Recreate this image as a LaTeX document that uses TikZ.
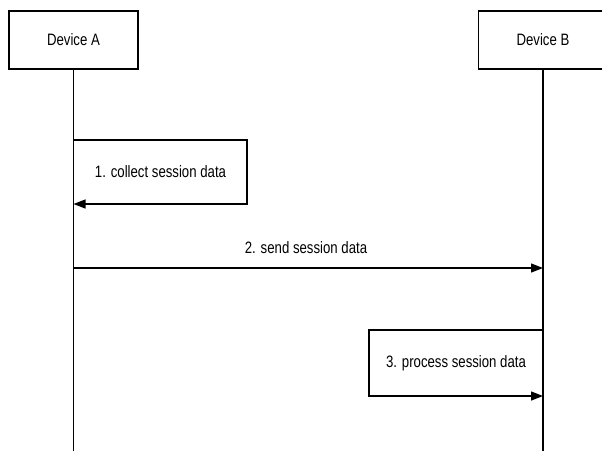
\documentclass[tikz,border=0pt]{standalone}
\usepackage{fontspec}
\setmainfont{Liberation Sans}
\usepackage{graphicx}
\usetikzlibrary{arrows.meta}
\newcommand\narrowtext[1]{\scalebox{0.8}[1]{#1}}
\begin{document}
\begin{tikzpicture}[x=1pt,y=-1pt,
  lifeline/.style={line width=1.3pt, draw=black},
  dev/.style={draw=black, line width=1.3pt, minimum width=129pt, minimum height=58pt, inner sep=0pt, font=\fontsize{16.5}{18}\selectfont},
  lbl/.style={inner sep=0pt, font=\fontsize{16.5}{18}\selectfont},
  msg/.style={line width=1.3pt, draw=black, -{Triangle[length=12pt,width=9pt]}}]
\useasboundingbox (0,0) rectangle (602,451);
\clip (0,0) rectangle (602,451);
\coordinate (bottom) at (0,451);
\node[dev] (A) at (73.5,40) {\narrowtext{Device A}};
\node[dev] (B) at (543,40) {\narrowtext{Device B}};
\draw[lifeline] (A.south) -- (A.south |- bottom);
\draw[lifeline] (B.south) -- (B.south |- bottom);
% 1. self message on A
\coordinate (s1) at (73.5,140);
\coordinate (r1) at (247,172);
\coordinate (e1) at (73.5,204);
\draw[msg] (s1) -| (r1) |- (e1);
\node[lbl] (t1) at (160.5,172) {\narrowtext{1. collect session data}};
% 2. A -> B
\coordinate (a2) at (73.5,268);
\coordinate (b2) at (543,268);
\draw[msg] (a2) -- (b2);
\node[lbl] (t2) at (306,248) {\narrowtext{2. send session data}};
% 3. self message on B
\coordinate (s3) at (543,330);
\coordinate (r3) at (369,363);
\coordinate (e3) at (543,396);
\draw[msg] (s3) -| (r3) |- (e3);
\node[lbl] (t3) at (456,363) {\narrowtext{3. process session data}};
\end{tikzpicture}
\end{document}
